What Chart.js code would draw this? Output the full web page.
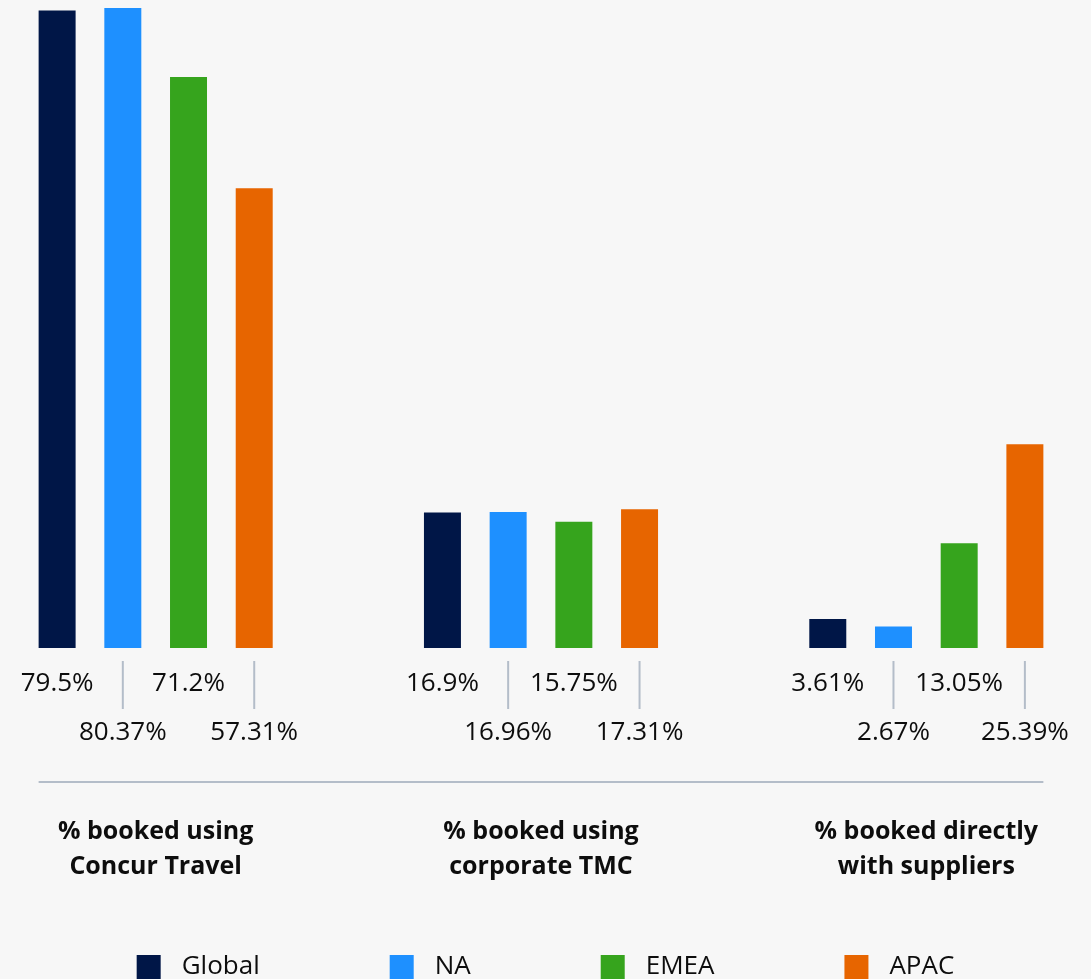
<!DOCTYPE html>
<html>
<head>
<meta charset="utf-8">
<script src="https://cdn.jsdelivr.net/npm/chart.js@4.4.0/dist/chart.umd.min.js"></script>
<style>
  html, body { margin: 0; padding: 0; background: #f7f7f7; overflow: hidden; width: 1091px; height: 979px; }
  /* chart is a little wider than the page, the outer groups sit close to the edges */
  #wrap { position: absolute; left: -37px; top: 0; width: 1156px; height: 979px; }
</style>
</head>
<body>
<div id="wrap"><canvas id="bookingChart"></canvas></div>
<script>
const categories = [
    ['% booked using', 'Concur Travel'],
    ['% booked using', 'corporate TMC'],
    ['% booked directly', 'with suppliers']
];
const seriesNames = ['Global', 'NA', 'EMEA', 'APAC'];
const globalValues = [79.5, 16.9, 3.61];
const naValues = [80.37, 16.96, 2.67];
const emeaValues = [71.2, 15.75, 13.05];
const apacValues = [57.31, 17.31, 25.39];

const seriesColors = ['#001647', '#1e90ff', '#36a41d', '#e76500'];
const FONT = '"Open Sans", "Noto Sans", sans-serif';
const TEXT_COLOR = '#0d0d0d';
const RULE_COLOR = '#b4bdc9';

// value labels under the bars, every second one pushed down with a leader line
const valueLabels = {
    id: 'valueLabels',
    afterDatasetsDraw(chart) {
        const ctx = chart.ctx;
        const bottom = chart.chartArea.bottom;
        ctx.save();
        ctx.font = '26px ' + FONT;
        ctx.fillStyle = TEXT_COLOR;
        ctx.textAlign = 'center';
        ctx.textBaseline = 'middle';
        ctx.strokeStyle = RULE_COLOR;
        ctx.lineWidth = 2;
        chart.data.datasets.forEach((ds, i) => {
            const meta = chart.getDatasetMeta(i);
            meta.data.forEach((bar, j) => {
                const label = ds.data[j] + '%';
                if (i % 2 === 0) {
                    ctx.fillText(label, bar.x, bottom + 36);
                } else {
                    ctx.beginPath();
                    ctx.moveTo(bar.x, bottom + 13);
                    ctx.lineTo(bar.x, bottom + 61);
                    ctx.stroke();
                    ctx.fillText(label, bar.x, bottom + 85);
                }
            });
        });

        // divider between the values and the category names
        const first = chart.getDatasetMeta(0).data[0];
        const lastMeta = chart.getDatasetMeta(chart.data.datasets.length - 1);
        const last = lastMeta.data[lastMeta.data.length - 1];
        ctx.beginPath();
        ctx.moveTo(first.x - first.width / 2, bottom + 134);
        ctx.lineTo(last.x + last.width / 2, bottom + 134);
        ctx.stroke();
        ctx.restore();
    }
};

// legend along the bottom edge, centred on the page
const bottomLegend = {
    id: 'bottomLegend',
    afterDraw(chart) {
        const ctx = chart.ctx;
        const box = 24, gap = 21, spacing = 130;
        ctx.save();
        ctx.font = '26px ' + FONT;
        ctx.textBaseline = 'middle';
        ctx.textAlign = 'left';
        const widths = chart.data.datasets.map(ds => box + gap + ctx.measureText(ds.label).width);
        const total = widths.reduce((a, b) => a + b, 0) + spacing * (widths.length - 1);
        const rect = chart.canvas.getBoundingClientRect();
        let x = window.innerWidth / 2 - rect.left - total / 2;
        const midY = chart.height - 12;
        chart.data.datasets.forEach((ds, i) => {
            ctx.fillStyle = ds.backgroundColor;
            ctx.fillRect(x, midY - box / 2, box, box);
            ctx.fillStyle = TEXT_COLOR;
            ctx.fillText(ds.label, x + box + gap, midY);
            x += widths[i] + spacing;
        });
        ctx.restore();
    }
};

const ctx = document.getElementById('bookingChart').getContext('2d');

const chartData = {
    labels: categories,
    datasets: [
        { label: seriesNames[0], data: globalValues, backgroundColor: seriesColors[0] },
        { label: seriesNames[1], data: naValues, backgroundColor: seriesColors[1] },
        { label: seriesNames[2], data: emeaValues, backgroundColor: seriesColors[2] },
        { label: seriesNames[3], data: apacValues, backgroundColor: seriesColors[3] }
    ]
};

const chartOptions = {
    responsive: true,
    maintainAspectRatio: false,
    animation: false,
    layout: {
        padding: { top: 8, bottom: 95, left: 0, right: 0 }
    },
    datasets: {
        bar: {
            categoryPercentage: 0.682,
            barPercentage: 0.563,
            borderWidth: 0
        }
    },
    plugins: {
        legend: { display: false },
        tooltip: { enabled: false }
    },
    scales: {
        x: {
            grid: { display: false, drawTicks: false },
            border: { display: false },
            ticks: {
                color: TEXT_COLOR,
                padding: 166,
                maxRotation: 0,
                autoSkip: false,
                font: {
                    family: FONT,
                    size: 25,
                    weight: 'bold',
                    lineHeight: 1.4
                }
            },
            // the big tick padding is only wanted downwards, not at the sides
            afterFit(scale) {
                scale.paddingLeft = 0;
                scale.paddingRight = 0;
                scale.height = 236;
            }
        },
        y: {
            display: false,
            min: 0,
            max: 79.8
        }
    }
};

new Chart(ctx, {
    type: 'bar',
    data: chartData,
    options: chartOptions,
    plugins: [valueLabels, bottomLegend]
});
</script>
</body>
</html>
